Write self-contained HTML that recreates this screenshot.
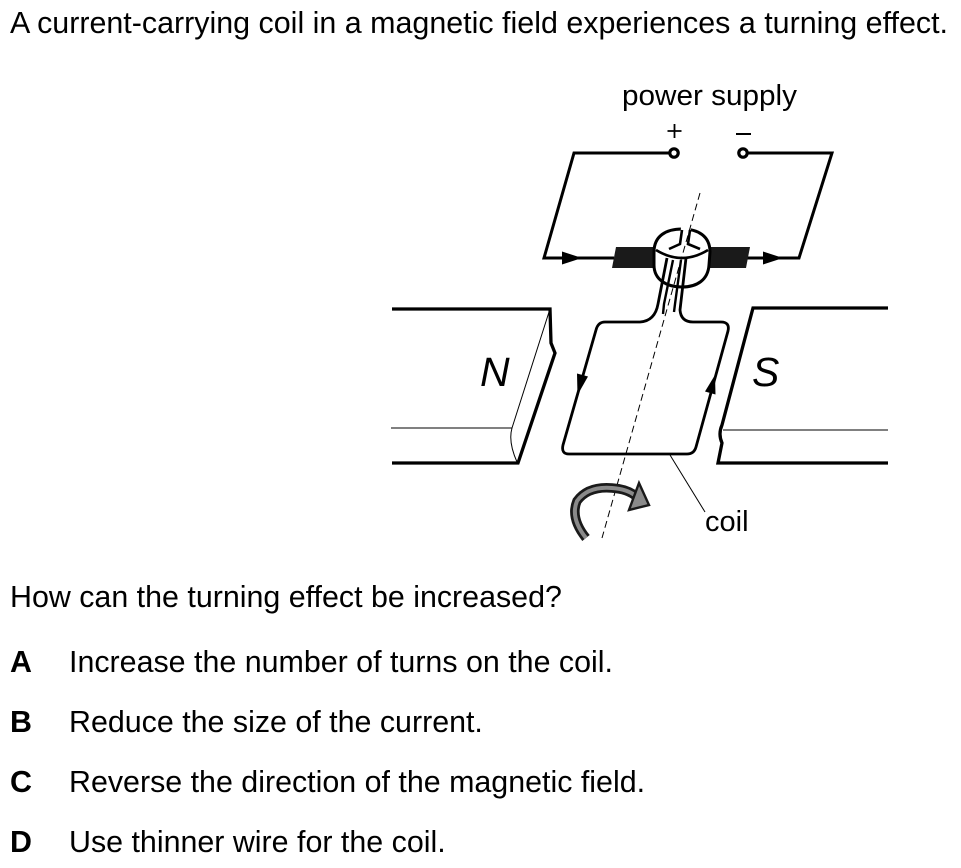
<!DOCTYPE html>
<html><head><meta charset="utf-8">
<style>
html,body{margin:0;padding:0;background:#fff;}
svg{display:block;}
text{font-family:"Liberation Sans",Arial,sans-serif;fill:#000;}
</style></head>
<body>
<svg width="961" height="868" viewBox="0 0 961 868" xmlns="http://www.w3.org/2000/svg">
<rect width="961" height="868" fill="#fff"/>
<text x="10" y="33" font-size="30.4" textLength="938" lengthAdjust="spacingAndGlyphs">A current-carrying coil in a magnetic field experiences a turning effect.</text>

<!-- power supply -->
<text x="622" y="105" font-size="28.3" textLength="175" lengthAdjust="spacingAndGlyphs">power supply</text>
<path d="M667.5,131 H681.5 M674.5,124 V138" stroke="#000" stroke-width="1.8" fill="none"/>
<path d="M736,134 H751" stroke="#000" stroke-width="2" fill="none"/>

<!-- circuit wires -->
<path d="M670,153 H574 L544,258 H614" stroke="#000" stroke-width="3" fill="none" stroke-linejoin="miter"/>
<path d="M747,153 H832 L799,258 H746" stroke="#000" stroke-width="3" fill="none" stroke-linejoin="miter"/>
<circle cx="674" cy="153" r="4.2" fill="#fff" stroke="#000" stroke-width="3.2"/>
<circle cx="743" cy="153" r="4.2" fill="#fff" stroke="#000" stroke-width="3.2"/>
<polygon points="562,251.5 582,258 562,264.5" fill="#000"/>
<polygon points="763,251.5 783,258 763,264.5" fill="#000"/>

<!-- brushes -->
<polygon points="616,247 664,247 664,268 612,268" fill="#1a1a1a"/>
<polygon points="700,247 750,247 746,268 700,268" fill="#1a1a1a"/>

<!-- split ring commutator -->
<path d="M654,252 C654,236 666,229 682,229 C698,229 710,236 710,252 L709,265 C708,280 697,287 682,287 C667,287 654,280 654,265 Z" fill="#fff" stroke="#000" stroke-width="3"/>
<path d="M656,250 Q682,266 708,250" fill="none" stroke="#000" stroke-width="2.6"/>
<polygon points="681,227 691,227 688,252 679,252" fill="#fff"/>
<path d="M682,230 L680,244 L669,249 M690,230 L688,244 L700,249" fill="none" stroke="#000" stroke-width="2.6"/>

<!-- coil -->
<path d="M667,258 L658,304 Q655,321 640,322 L605,322 Q598,322 596,330 L563,445 Q561,454 569,454 L687,454 Q694,454 696,447 L728,331 Q730,322 721,322 L693,322 Q681,322 680,310 L686,258" fill="none" stroke="#000" stroke-width="2.8" stroke-linejoin="round"/>
<path d="M673,260 L664,304 L663,314" fill="none" stroke="#000" stroke-width="2.4"/>
<path d="M681,260 L675,304 L674,312" fill="none" stroke="#000" stroke-width="2.4"/>
<polygon points="577.5,395 588,376.5 577,373.5" fill="#000"/>
<polygon points="715,375 715.5,394.5 705,391.5" fill="#000"/>

<!-- N magnet -->
<path d="M392,309 H550 L551,343 L555,353 L518,463 H392" fill="none" stroke="#000" stroke-width="3.3" stroke-linejoin="miter"/>
<path d="M549,312 L512,428 Q508,442 517,462" fill="none" stroke="#000" stroke-width="1"/>
<path d="M391,428 H512" fill="none" stroke="#000" stroke-width="1"/>
<text x="480" y="386" font-size="41" font-style="italic">N</text>

<!-- S magnet -->
<path d="M888,308 H753 L722,425 Q718,434 722,443 L718,463 H888" fill="none" stroke="#000" stroke-width="3.3" stroke-linejoin="miter"/>
<path d="M723,430 H888" fill="none" stroke="#000" stroke-width="1"/>
<text x="752" y="386" font-size="41" font-style="italic">S</text>

<!-- axis -->
<path d="M700,193 L602,538" stroke="#000" stroke-width="1" stroke-dasharray="7 4" fill="none"/>

<!-- coil label -->
<path d="M670,455 L705,512" stroke="#000" stroke-width="1" fill="none"/>
<text x="705" y="531" font-size="29">coil</text>

<!-- rotation arrow -->
<path d="M586,538 Q570,518 577,501 Q588,486 612,488 Q628,489 637,497" fill="none" stroke="#1a1a1a" stroke-width="9.5"/>
<path d="M586,538 Q570,518 577,501 Q588,486 612,488 Q628,489 637,497" fill="none" stroke="#8a8a8a" stroke-width="4"/>
<polygon points="639,483 649,505 629,510" fill="#8a8a8a" stroke="#1a1a1a" stroke-width="2.4" stroke-linejoin="miter"/>

<!-- question -->
<text x="10" y="607" font-size="30.4">How can the turning effect be increased?</text>
<text x="10" y="672" font-size="30.4" font-weight="bold">A</text>
<text x="69" y="672" font-size="30.4">Increase the number of turns on the coil.</text>
<text x="10" y="732" font-size="30.4" font-weight="bold">B</text>
<text x="69" y="732" font-size="30.4">Reduce the size of the current.</text>
<text x="10" y="792" font-size="30.4" font-weight="bold">C</text>
<text x="69" y="792" font-size="30.4">Reverse the direction of the magnetic field.</text>
<text x="10" y="852" font-size="30.4" font-weight="bold">D</text>
<text x="69" y="852" font-size="30.4">Use thinner wire for the coil.</text>
</svg>
</body></html>
